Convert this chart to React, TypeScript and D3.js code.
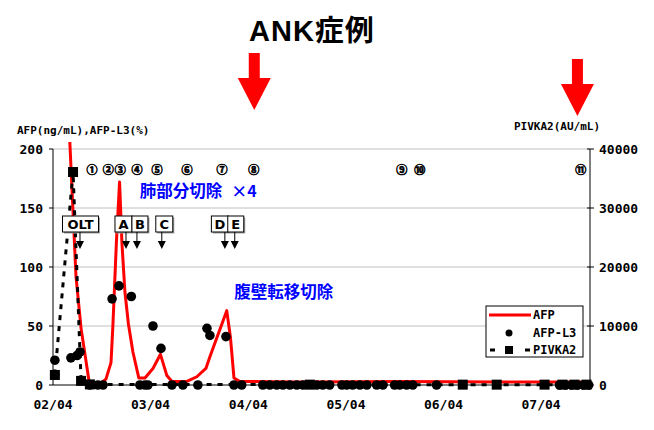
import React, { useEffect, useRef } from 'react';
import * as d3 from 'd3';

// AFP (ng/mL), left axis
const afpDates = [
  '2002-05-23', '2002-06-26', '2002-07-15', '2002-08-14', '2002-09-24', '2002-10-16',
  '2002-11-04', '2002-11-11', '2002-11-24', '2002-12-06', '2002-12-15', '2002-12-26',
  '2003-01-08', '2003-01-25', '2003-02-16', '2003-03-11', '2003-04-10', '2003-05-08',
  '2003-06-01', '2003-06-20', '2003-08-15', '2003-09-21', '2003-10-25', '2003-11-09',
  '2004-01-11', '2004-01-25', '2004-02-07', '2004-02-29', '2004-10-10', '2005-10-19',
  '2006-10-28', '2007-09-29',
];
const afpValues = [
  260, 92, 48, 3, 1, 5,
  19, 50, 120, 172, 120, 79,
  52, 28, 6, 6, 14, 26,
  8, 3, 3, 7, 14, 24,
  63, 40, 6, 3, 2.5, 3,
  2.5, 2.5,
];

// AFP-L3 (%), left axis, markers only
const l3Dates = [
  '2002-04-08', '2002-04-08', '2002-06-07', '2002-06-30', '2002-07-11', '2002-08-17',
  '2002-09-16', '2002-10-05', '2002-11-08', '2002-12-04', '2003-01-19', '2003-02-20',
  '2003-03-11', '2003-03-22', '2003-04-10', '2003-05-10', '2003-06-20', '2003-07-31',
  '2003-09-25', '2003-10-29', '2003-11-09', '2004-01-08', '2004-02-07', '2004-03-07',
  '2004-05-25', '2004-06-20', '2004-07-16', '2004-08-08', '2004-09-03', '2004-09-29',
  '2004-10-22', '2004-12-13', '2005-01-04', '2005-01-30', '2005-03-17', '2005-04-04',
  '2005-04-26', '2005-05-23', '2005-06-18', '2005-07-25', '2005-08-17', '2005-09-30',
  '2005-10-19', '2005-11-14', '2005-12-07', '2006-03-06', '2007-06-09', '2007-07-02',
  '2007-07-24', '2007-08-15', '2007-09-07', '2007-09-26',
];
const l3Values = [
  21, 9, 23, 25, 28, 0,
  0, 0, 73, 84, 75, 0,
  0, 0, 50, 31, 0, 0,
  0, 48, 42, 41, 0, 0,
  0, 0, 0, 0, 0, 0,
  0, 0, 0, 0, 0, 0,
  0, 0, 0, 0, 0, 0,
  0, 0, 0, 0, 0, 0,
  0, 0, 0, 0,
];

// PIVKA2 (AU/mL), right axis
const pivkaDates = [
  '2002-04-08', '2002-06-15', '2002-07-15', '2002-08-17', '2004-11-17',
  '2006-06-12', '2006-10-17', '2007-04-14', '2007-06-20', '2007-08-04', '2007-09-18',
];
const pivkaValues = [1700, 36100, 700, 100, 60, 60, 60, 60, 60, 60, 60];

// circled event numbers
const eventLabels = ['①', '②', '③', '④', '⑤', '⑥', '⑦', '⑧', '⑨', '⑩', '⑪'];
const eventDates = [
  '2002-08-25', '2002-10-25', '2002-12-09', '2003-02-09', '2003-04-25', '2003-08-15',
  '2003-12-24', '2004-04-21', '2005-10-27', '2006-01-02', '2007-08-27',
];

// boxed procedure labels with arrows
const procLabels = ['OLT', 'A', 'B', 'C', 'D', 'E'];
const procDates = ['2002-07-11', '2002-12-30', '2003-02-09', '2003-05-13', '2004-01-04', '2004-02-10'];
const procBoxLeft = [-17.5, -11, -5, -6, -13.5, -7]; // box left edge relative to arrow
const procBoxWidth = [36, 17, 16, 17, 17, 16];

// big red arrows above the chart
const redArrowDates = ['2004-04-23', '2007-08-15'];
const redArrowTops = [53, 59];

const xTickDates = ['2002-04-01', '2003-04-01', '2004-04-01', '2005-04-01', '2006-04-01', '2007-04-01'];
const leftTicks = [0, 50, 100, 150, 200];
const rightTicks = [0, 10000, 20000, 30000, 40000];

const App: React.FC = () => {
  const width = 654;
  const height = 430;
  const svgRef = useRef<SVGSVGElement>(null);

  useEffect(() => {
    if (!svgRef.current) return;
    const svg = d3.select(svgRef.current);
    svg.selectAll('*').remove();

    const parse = d3.utcParse('%Y-%m-%d');
    const left = 53, right = 590, top = 149, bottom = 385;

    const x = d3.scaleUtc()
      .domain([parse('2002-04-01') as Date, parse('2007-10-01') as Date])
      .range([left, right]);
    const yL = d3.scaleLinear().domain([0, 200]).range([bottom, top]);
    const yR = d3.scaleLinear().domain([0, 40000]).range([bottom, top]);

    const mono = "'DejaVu Sans Mono', monospace";
    const jp = "'Noto Sans CJK JP', sans-serif";

    // title
    svg.append('text')
      .attr('x', 249).attr('y', 41)
      .attr('font-family', "'Liberation Sans', 'Noto Sans CJK JP', sans-serif")
      .attr('font-weight', 'bold').attr('font-size', 29)
      .attr('letter-spacing', 1)
      .text('ANK症例');

    // red block arrows
    redArrowDates.forEach((d, i) => {
      const cx = x(parse(d) as Date);
      const t = redArrowTops[i];
      const p = d3.path();
      p.moveTo(cx - 5.5, t);
      p.lineTo(cx + 5.5, t);
      p.lineTo(cx + 5.5, t + 25);
      p.lineTo(cx + 16.5, t + 25);
      p.lineTo(cx, t + 57);
      p.lineTo(cx - 16.5, t + 25);
      p.lineTo(cx - 5.5, t + 25);
      p.closePath();
      svg.append('path').attr('d', p.toString()).attr('fill', '#ff0000');
    });

    // gridlines
    leftTicks.filter(t => t > 0).forEach(t => {
      svg.append('line')
        .attr('x1', left).attr('x2', right)
        .attr('y1', yL(t)).attr('y2', yL(t))
        .attr('stroke', '#c0c0c0').attr('stroke-width', 1);
    });

    // axes lines
    svg.append('line').attr('x1', left).attr('x2', left).attr('y1', top).attr('y2', bottom)
      .attr('stroke', '#000').attr('stroke-width', 1);
    svg.append('line').attr('x1', right).attr('x2', right).attr('y1', top).attr('y2', bottom)
      .attr('stroke', '#000').attr('stroke-width', 1);
    svg.append('line').attr('x1', left).attr('x2', right).attr('y1', bottom).attr('y2', bottom)
      .attr('stroke', '#000').attr('stroke-width', 1);

    leftTicks.forEach(t => {
      svg.append('line').attr('x1', left - 4).attr('x2', left).attr('y1', yL(t)).attr('y2', yL(t))
        .attr('stroke', '#000');
      svg.append('text')
        .attr('x', 43).attr('y', yL(t)).attr('dy', '0.35em')
        .attr('text-anchor', 'end')
        .attr('font-family', mono).attr('font-weight', 'bold').attr('font-size', 13)
        .text(String(t));
    });
    rightTicks.forEach(t => {
      svg.append('line').attr('x1', right - 3).attr('x2', right + 4).attr('y1', yR(t)).attr('y2', yR(t))
        .attr('stroke', '#000');
      svg.append('text')
        .attr('x', 599).attr('y', yR(t)).attr('dy', '0.35em')
        .attr('font-family', mono).attr('font-weight', 'bold').attr('font-size', 13)
        .text(String(t));
    });
    xTickDates.forEach(d => {
      svg.append('text')
        .attr('x', x(parse(d) as Date)).attr('y', 409)
        .attr('text-anchor', 'middle')
        .attr('font-family', mono).attr('font-weight', 'bold').attr('font-size', 13)
        .text(d3.utcFormat('%y/%m')(parse(d) as Date));
    });

    // axis titles
    svg.append('text').attr('x', 17).attr('y', 134)
      .attr('font-family', mono).attr('font-weight', 'bold').attr('font-size', 11)
      .text('AFP(ng/mL),AFP-L3(%)');
    svg.append('text').attr('x', 514).attr('y', 130)
      .attr('font-family', mono).attr('font-weight', 'bold').attr('font-size', 11)
      .text('PIVKA2(AU/mL)');

    // clip for AFP line
    svg.append('clipPath').attr('id', 'plotclip')
      .append('rect').attr('x', left).attr('y', 142).attr('width', right - left).attr('height', bottom - 142 + 6);

    // AFP red line
    const afpPts: [number, number][] = afpDates.map((d, i) => [x(parse(d) as Date), yL(afpValues[i])]);
    svg.append('path')
      .datum(afpPts)
      .attr('d', d3.line())
      .attr('fill', 'none')
      .attr('stroke', '#ff0000')
      .attr('stroke-width', 3)
      .attr('stroke-linejoin', 'round')
      .attr('clip-path', 'url(#plotclip)');

    // AFP-L3 circles
    l3Dates.forEach((d, i) => {
      svg.append('circle')
        .attr('cx', x(parse(d) as Date))
        .attr('cy', yL(l3Values[i]))
        .attr('r', 4.8)
        .attr('fill', '#000');
    });

    // PIVKA2 dashed line with squares
    const pivPts: [number, number][] = pivkaDates.map((d, i) => [x(parse(d) as Date), yR(pivkaValues[i])]);
    svg.append('path')
      .datum(pivPts)
      .attr('d', d3.line())
      .attr('fill', 'none')
      .attr('stroke', '#000')
      .attr('stroke-width', 3)
      .attr('stroke-dasharray', '5 6');
    pivPts.forEach(p => {
      svg.append('rect')
        .attr('x', p[0] - 5).attr('y', p[1] - 5)
        .attr('width', 10).attr('height', 10)
        .attr('fill', '#000');
    });

    // circled event numbers
    eventLabels.forEach((lab, i) => {
      svg.append('text')
        .attr('x', x(parse(eventDates[i]) as Date)).attr('y', yL(182)).attr('dy', '0.38em')
        .attr('text-anchor', 'middle')
        .attr('font-family', jp).attr('font-weight', 'bold').attr('font-size', 11)
        .attr('stroke', '#000').attr('stroke-width', 0.7)
        .text(lab);
    });

    // procedure boxes and arrows
    procLabels.forEach((lab, i) => {
      const ax = x(parse(procDates[i]) as Date);
      const bx = ax + procBoxLeft[i];
      const bw = procBoxWidth[i];
      svg.append('rect').attr('x', bx + 1.5).attr('y', 217.5).attr('width', bw).attr('height', 16)
        .attr('fill', '#a0a0a0');
      svg.append('rect').attr('x', bx).attr('y', 216).attr('width', bw).attr('height', 16)
        .attr('fill', '#fff').attr('stroke', '#000').attr('stroke-width', 1);
      svg.append('text').attr('x', bx + bw / 2).attr('y', 229)
        .attr('text-anchor', 'middle')
        .attr('font-family', "'DejaVu Sans', sans-serif").attr('font-weight', 'bold').attr('font-size', 13)
        .text(lab);
      svg.append('line').attr('x1', ax).attr('x2', ax).attr('y1', 232).attr('y2', 243)
        .attr('stroke', '#000').attr('stroke-width', 1);
      svg.append('path')
        .attr('d', `M${ax - 4},${241}L${ax + 4},${241}L${ax},${249}Z`)
        .attr('fill', '#000');
    });

    // blue annotations
    svg.append('text')
      .attr('x', x(parse('2003-02-20') as Date)).attr('y', yL(159))
      .attr('font-family', jp).attr('font-weight', 'bold').attr('font-size', 16.5).attr('fill', '#0000ff')
      .text('肺部分切除');
    svg.append('text')
      .attr('x', x(parse('2004-01-28') as Date)).attr('y', yL(159))
      .attr('font-family', jp).attr('font-weight', 'bold').attr('font-size', 16).attr('fill', '#0000ff')
      .text('×4');
    svg.append('text')
      .attr('x', x(parse('2004-02-08') as Date)).attr('y', yL(74))
      .attr('font-family', jp).attr('font-weight', 'bold').attr('font-size', 16.5).attr('fill', '#0000ff')
      .text('腹壁転移切除');

    // legend
    const lg = svg.append('g');
    lg.append('rect').attr('x', 486).attr('y', 306).attr('width', 97).attr('height', 51)
      .attr('fill', '#fff').attr('stroke', '#000').attr('stroke-width', 1);
    lg.append('line').attr('x1', 489).attr('x2', 531).attr('y1', 315).attr('y2', 315)
      .attr('stroke', '#ff0000').attr('stroke-width', 3);
    lg.append('circle').attr('cx', 509).attr('cy', 333).attr('r', 3.5).attr('fill', '#000');
    lg.append('line').attr('x1', 490).attr('x2', 495).attr('y1', 350).attr('y2', 350)
      .attr('stroke', '#000').attr('stroke-width', 3);
    lg.append('rect').attr('x', 505).attr('y', 346).attr('width', 8).attr('height', 8).attr('fill', '#000');
    lg.append('line').attr('x1', 525).attr('x2', 530).attr('y1', 350).attr('y2', 350)
      .attr('stroke', '#000').attr('stroke-width', 3);
    ['AFP', 'AFP-L3', 'PIVKA2'].forEach((t, i) => {
      lg.append('text').attr('x', 533).attr('y', 315 + i * 17.5).attr('dy', '0.35em')
        .attr('font-family', mono).attr('font-weight', 'bold').attr('font-size', 12)
        .text(t);
    });
  }, [height, width]);

  return (
    <svg ref={svgRef} width={width} height={height}
      style={{ position: 'absolute', left: 0, top: 0, background: '#fff' }} />
  );
};

export default App;
